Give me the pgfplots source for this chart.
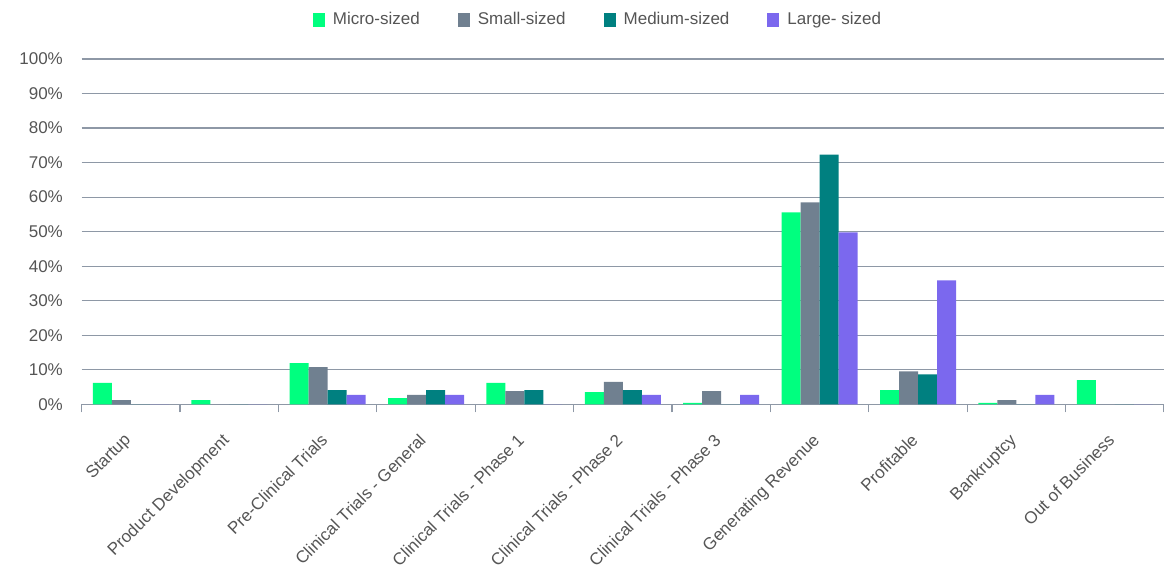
\documentclass[border=0pt]{standalone}
\usepackage{pgfplots}
\usepackage{pgfplotstable}
\pgfplotsset{compat=1.18}
\usepackage{fontspec}
\setmainfont{Liberation Sans}

\definecolor{micro}{HTML}{00FF7F}
\definecolor{small}{HTML}{708090}
\definecolor{medium}{HTML}{008080}
\definecolor{large}{HTML}{7B68EE}
\definecolor{gridc}{HTML}{8E98A6}
\definecolor{txt}{HTML}{555555}

% share of companies (%) by stage and company size
\pgfplotstableread{
x micro small medium large
0  6.2  1.2  0    0
1  1.2  0    0    0
2  11.9 10.8 4.1  2.7
3  1.8  2.7  4.1  2.7
4  6.2  3.8  4.1  0
5  3.5  6.5  4.1  2.7
6  0.4  3.8  0    2.7
7  55.6 58.5 72.3 49.8
8  4.1  9.5  8.7  35.9
9  0.4  1.2  0    2.7
10 7.0  0    0    0
}\stagedata

\begin{document}
\fontsize{17pt}{20pt}\selectfont
\begin{tikzpicture}
\useasboundingbox (-81.7pt,-165.7pt) rectangle (1082.3pt,404.3pt);
\begin{axis}[
  at={(0pt,0pt)}, anchor=south west,
  scale only axis,
  width=1082.3pt, height=345.3pt,
  ybar=0pt, bar width=19pt,
  xmin=-0.5, xmax=10.5,
  ymin=0, ymax=100,
  axis x line*=bottom,
  axis y line*=left,
  y axis line style={draw=none},
  x axis line style={draw=gridc, line width=1.2pt, -},
  ytick={0,10,...,100},
  yticklabels={0\%,10\%,20\%,30\%,40\%,50\%,60\%,70\%,80\%,90\%,100\%},
  ymajorgrids=true,
  grid style={draw=gridc, line width=1.2pt},
  major tick length=0pt,
  yticklabel style={font=\fontsize{17pt}{20pt}\selectfont, text=txt, anchor=east, xshift=-13pt},
  xtick={0,...,10},
  xticklabels={Startup, Product Development, Pre-Clinical Trials,
    Clinical Trials - General, Clinical Trials - Phase 1,
    Clinical Trials - Phase 2, Clinical Trials - Phase 3,
    Generating Revenue, Profitable, Bankruptcy, Out of Business},
  xticklabel style={font=\fontsize{17pt}{20pt}\selectfont, text=txt,
    xshift=-8pt, anchor=north east, rotate=45},
  xticklabel shift=20pt,
  extra x ticks={-0.5,0.5,...,10.5},
  extra x tick labels={},
  extra x tick style={major tick length=8pt, tick align=outside,
    tick style={draw=gridc, line width=1.2pt}, grid=none},
  legend columns=4,
  legend style={at={(0.477,1.113)}, anchor=center, draw=none, fill=none,
    font=\fontsize{17pt}{20pt}\selectfont, text=txt,
    /tikz/every odd column/.append style={column sep=6pt},
    /tikz/every even column/.append style={column sep=36pt},
    inner sep=0pt},
  legend image code/.code={\fill[#1] (0pt,-7pt) rectangle (12pt,7pt);},
  clip=false,
]
\addplot[fill=micro, draw=none] table[x=x, y=micro] {\stagedata};
\addplot[fill=small, draw=none] table[x=x, y=small] {\stagedata};
\addplot[fill=medium, draw=none] table[x=x, y=medium] {\stagedata};
\addplot[fill=large, draw=none] table[x=x, y=large] {\stagedata};
\legend{Micro-sized, Small-sized, Medium-sized, Large- sized}
\end{axis}
\end{tikzpicture}
\end{document}
